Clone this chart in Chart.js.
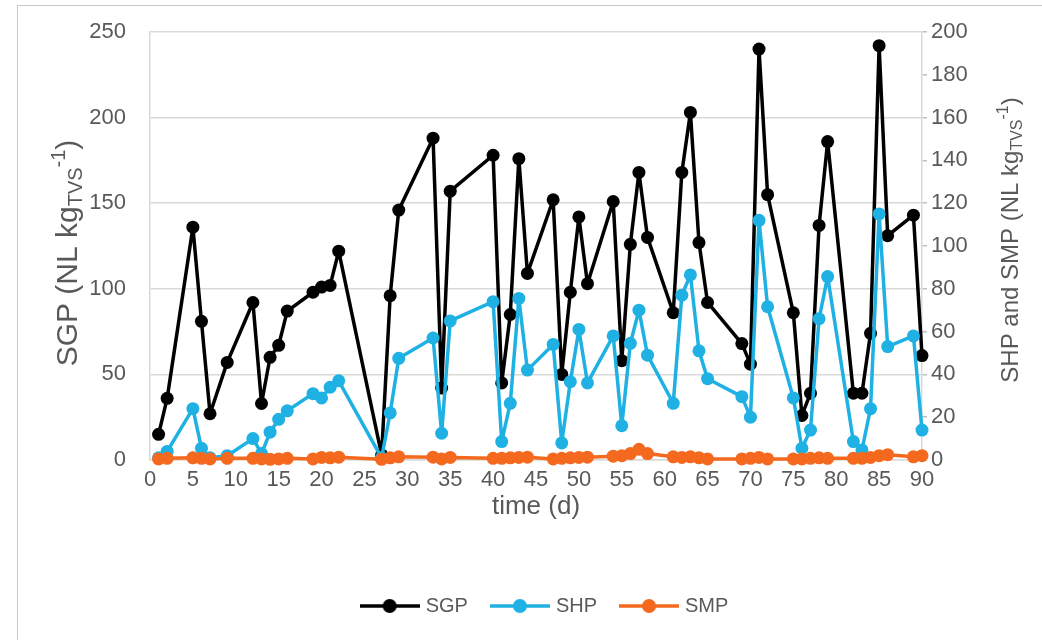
<!DOCTYPE html>
<html>
<head>
<meta charset="utf-8">
<script src="https://cdn.jsdelivr.net/npm/chart.js@4.4.0/dist/chart.umd.min.js"></script>
<style>
  html, body { margin: 0; padding: 0; background: #fff; }
  #wrap { position: relative; width: 1042px; height: 640px; overflow: hidden; }
  #frame { position: absolute; left: 17px; top: 5px; width: 1040px; height: 650px; border: 1px solid #c8c8c8; }
  canvas { position: absolute; left: 0; top: 0; }
</style>
</head>
<body>
<div id="wrap">
  <div id="frame"></div>
  <canvas id="myChart" width="1042" height="640"></canvas>
</div>
<script>
const myChartObject = document.getElementById('myChart');

// days of measurement
const days = [1, 2, 5, 6, 7, 9, 12, 13, 14, 15, 16, 19, 20, 21, 22, 27, 28, 29, 33, 34, 35,
              40, 41, 42, 43, 44, 47, 48, 49, 50, 51, 54, 55, 56, 57, 58, 61, 62, 63, 64, 65,
              69, 70, 71, 72, 75, 76, 77, 78, 79, 82, 83, 84, 85, 86, 89, 90];

// SGP, left axis
const sgp = [15, 36, 136, 81, 27, 57, 92, 33, 60, 67, 87, 98, 101, 102, 122, 3, 96, 146, 188, 42, 157,
             178, 45, 85, 176, 109, 152, 50, 98, 142, 103, 151, 58, 126, 168, 130, 86, 168, 203, 127, 92,
             68, 56, 240, 155, 86, 26, 39, 137, 186, 39, 39, 74, 242, 131, 143, 61];

// SHP and SMP, right axis
const shp = [1, 4, 24, 5.5, 1, 2, 10, 3, 13, 19, 23, 31, 29, 34, 37, 1, 22, 47.5, 57, 12.5, 65,
             74, 8.6, 26.5, 75.5, 42, 54, 8, 36.6, 61, 36, 58, 16, 54.5, 70, 49, 26.5, 77, 86.5, 51, 38,
             29.6, 20, 112, 71.6, 29, 5.5, 14, 66, 85.7, 8.6, 4.7, 24, 115, 53, 58, 14];
const smp = [0.5, 0.8, 1, 0.8, 0.5, 0.8, 0.8, 0.5, 0.3, 0.5, 0.8, 0.5, 1.2, 1, 1.3, 0.3, 1, 1.5, 1.3, 0.5, 1.2,
             0.8, 0.8, 1, 1.2, 1.3, 0.5, 0.8, 1, 1.2, 1.3, 1.8, 2, 3, 5, 3, 1.5, 1.2, 1.5, 1, 0.5,
             0.5, 0.8, 1.2, 0.5, 0.5, 0.5, 0.8, 1, 0.8, 0.8, 0.8, 1.2, 2, 2.5, 1.5, 2];

// tick labels
const dayTicks = [0, 5, 10, 15, 20, 25, 30, 35, 40, 45, 50, 55, 60, 65, 70, 75, 80, 85, 90];
const sgpTicks = [0, 50, 100, 150, 200, 250];
const sideTicks = [0, 20, 40, 60, 80, 100, 120, 140, 160, 180, 200];

const textColor = '#595959';
const fontName = '"Liberation Sans", Arial, sans-serif';

function pts(values) {
  return days.map((d, i) => ({x: d, y: values[i]}));
}

function legendIcon(color) {
  const c = document.createElement('canvas');
  c.width = 60;
  c.height = 16;
  const g = c.getContext('2d');
  g.strokeStyle = color;
  g.lineWidth = 3.5;
  g.beginPath();
  g.moveTo(0, 8);
  g.lineTo(60, 8);
  g.stroke();
  g.fillStyle = color;
  g.beginPath();
  g.arc(30, 8, 7, 0, Math.PI * 2);
  g.fill();
  return c;
}

// rotated axis title with subscript / superscript
function drawVertical(ctx, x, y, size, parts) {
  const big = size + 'px ' + fontName;
  const small = Math.round(size * 0.66) + 'px ' + fontName;
  ctx.save();
  ctx.translate(x, y);
  ctx.rotate(-Math.PI / 2);
  ctx.fillStyle = textColor;
  ctx.textBaseline = 'alphabetic';
  let total = 0;
  parts.forEach(p => {
    ctx.font = p[1] ? small : big;
    total += ctx.measureText(p[0]).width;
  });
  let cx = -total / 2;
  parts.forEach(p => {
    ctx.font = p[1] ? small : big;
    const dy = p[1] === 1 ? size * 0.5 : (p[1] === -1 ? -size * 0.08 : size * 0.34);
    ctx.fillText(p[0], cx, dy);
    cx += ctx.measureText(p[0]).width;
  });
  ctx.restore();
}

const axisTitles = {
  id: 'axisTitles',
  afterLayout(chart) {
    // legend sits a little right of centre in the original
    chart.legend.left += 25;
    chart.legend.right += 25;
  },
  afterDraw(chart) {
    const ctx = chart.ctx;
    drawVertical(ctx, 67, 253, 30, [['SGP (NL kg', 0], ['TVS', 1], ['-1', -1], [')', 0]]);
    drawVertical(ctx, 1010, 240, 24, [['SHP and SMP (NL kg', 0], ['TVS', 1], ['-1', -1], [')', 0]]);
  }
};

function lineSet(label, color, values, axis, order) {
  return {
    label: label,
    data: pts(values),
    yAxisID: axis,
    order: order,
    borderColor: color,
    backgroundColor: color,
    pointBackgroundColor: color,
    pointBorderWidth: 0,
    pointRadius: 6.5,
    pointHoverRadius: 6.5,
    borderWidth: 3.5,
    borderJoinStyle: 'round',
    tension: 0,
    clip: false
  };
}

const cfg = {
  type: 'line',
  data: {
    datasets: [
      lineSet('SGP', '#000000', sgp, 'y', 3),
      lineSet('SHP', '#1fb1e3', shp, 'y2', 2),
      lineSet('SMP', '#f4691e', smp, 'y2', 1)
    ]
  },
  options: {
    responsive: false,
    animation: false,
    layout: { padding: { top: 32, bottom: 14, left: 0, right: 0 } },
    plugins: {
      tooltip: { enabled: false },
      legend: {
        position: 'bottom',
        labels: {
          usePointStyle: true,
          pointStyleWidth: 52,
          padding: 26,
          color: textColor,
          font: { family: fontName, size: 20 },
          generateLabels(chart) {
            return chart.data.datasets.map((ds, i) => ({
              text: ds.label,
              pointStyle: legendIcon(ds.borderColor),
              fillStyle: ds.borderColor,
              strokeStyle: ds.borderColor,
              lineWidth: 0,
              fontColor: textColor,
              hidden: false,
              datasetIndex: i
            }));
          }
        }
      }
    },
    scales: {
      x: {
        type: 'linear',
        min: 0,
        max: 90,
        afterBuildTicks: s => { s.ticks = dayTicks.map(v => ({value: v})); },
        afterFit: s => { s.height = 110; },
        grid: { display: false, drawTicks: false },
        border: { color: '#d9d9d9', width: 1.5 },
        ticks: { color: textColor, font: { family: fontName, size: 22 }, padding: 7, maxRotation: 0, autoSkip: false },
        title: { display: true, text: 'time (d)', color: textColor, font: { family: fontName, size: 26 }, padding: { top: 0, bottom: 48 } }
      },
      y: {
        position: 'left',
        min: 0,
        max: 250,
        afterBuildTicks: s => { s.ticks = sgpTicks.map(v => ({value: v})); },
        afterFit: s => { s.width = 150; },
        grid: { color: '#d9d9d9', lineWidth: 1.5, drawTicks: false },
        border: { color: '#d9d9d9', width: 1.5 },
        ticks: { color: textColor, font: { family: fontName, size: 22, lineHeight: 0.7 }, padding: 24 }
      },
      y2: {
        position: 'right',
        min: 0,
        max: 200,
        afterBuildTicks: s => { s.ticks = sideTicks.map(v => ({value: v})); },
        afterFit: s => { s.width = 120; },
        grid: { drawOnChartArea: false, color: '#bfbfbf', lineWidth: 1.5, tickLength: 5 },
        border: { color: '#d9d9d9', width: 1.5 },
        ticks: { color: textColor, font: { family: fontName, size: 22 }, padding: 4 }
      }
    }
  },
  plugins: [axisTitles]
};

let chart = new Chart(myChartObject, cfg);
</script>
</body>
</html>
